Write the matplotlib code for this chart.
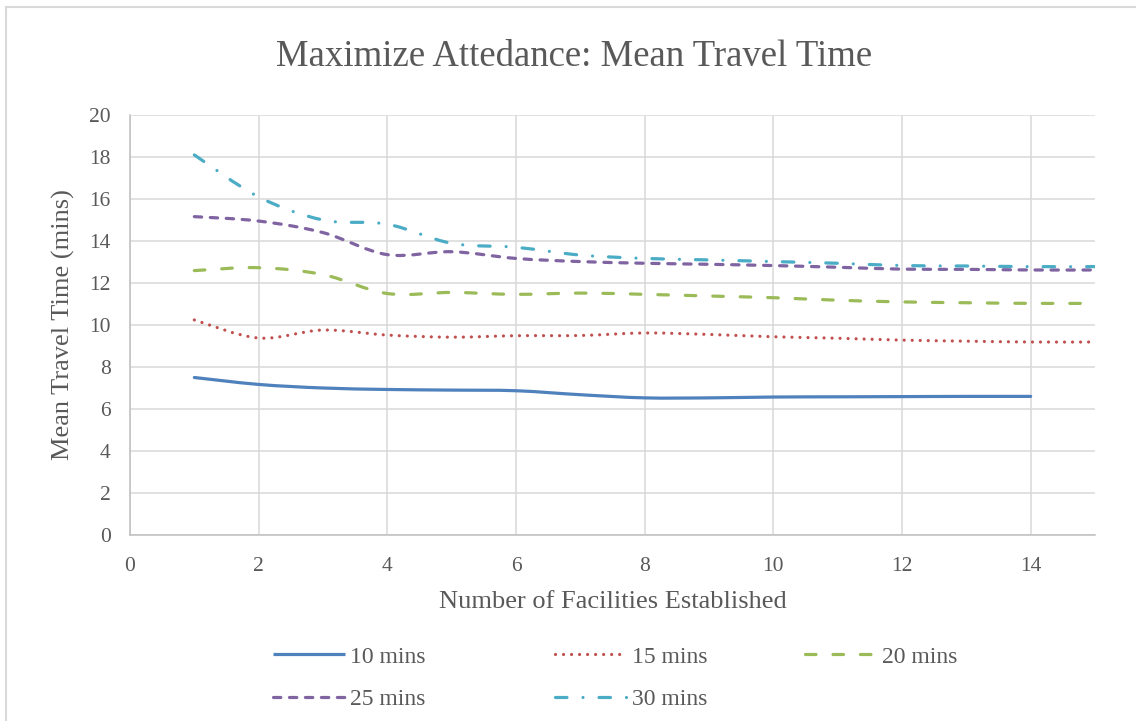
import numpy as np
import matplotlib.pyplot as plt
from matplotlib.path import Path
from matplotlib.patches import PathPatch
from matplotlib.lines import Line2D

plt.rcParams['font.family'] = ['Liberation Serif', 'DejaVu Serif']

# Datos
facilities = [1, 2, 3, 4, 5, 6, 7, 8, 9, 10, 11, 12, 13, 14, 15]
mins_10 = [7.50, 7.17, 7.00, 6.93, 6.90, 6.87, 6.68, 6.53, 6.53, 6.57, 6.58, 6.59, 6.60, 6.60]
mins_15 = [10.24, 9.38, 9.76, 9.52, 9.42, 9.49, 9.50, 9.62, 9.55, 9.44, 9.37, 9.28, 9.23, 9.19, 9.19]
mins_20 = [12.59, 12.73, 12.40, 11.50, 11.55, 11.46, 11.52, 11.46, 11.38, 11.30, 11.18, 11.10, 11.06, 11.03, 11.03]
mins_25 = [15.16, 14.95, 14.40, 13.35, 13.49, 13.17, 13.02, 12.94, 12.89, 12.83, 12.75, 12.66, 12.65, 12.62, 12.62]
mins_30 = [18.10, 16.10, 15.00, 14.80, 13.89, 13.70, 13.33, 13.17, 13.10, 13.02, 12.94, 12.83, 12.81, 12.78, 12.78]

names = ['10 mins', '15 mins', '20 mins', '25 mins', '30 mins']
series = [mins_10, mins_15, mins_20, mins_25, mins_30]
colors = ['#4F81BD', '#C0504D', '#9BBB59', '#8064A2', '#4BACC6']
styles = ['-', (0, (0.01, 2.5)), (0, (3.3, 5.3)), (0, (2.3, 2.7)), (0, (3.6, 5.0, 0.01, 5.0))]
text_color = '#595959'


def smooth_path(x, y):
    # Curva suave tipo Excel: Bezier cúbica con tangentes Catmull-Rom
    x = np.asarray(x, float)
    y = np.asarray(y, float)
    verts = [(x[0], y[0])]
    codes = [Path.MOVETO]
    n = len(x)
    for i in range(n - 1):
        p0 = (x[max(i - 1, 0)], y[max(i - 1, 0)])
        p1 = (x[i], y[i])
        p2 = (x[i + 1], y[i + 1])
        p3 = (x[min(i + 2, n - 1)], y[min(i + 2, n - 1)])
        c1 = (p1[0] + (p2[0] - p0[0]) / 6, p1[1] + (p2[1] - p0[1]) / 6)
        c2 = (p2[0] - (p3[0] - p1[0]) / 6, p2[1] - (p3[1] - p1[1]) / 6)
        verts += [c1, c2, p2]
        codes += [Path.CURVE4] * 3
    return Path(verts, codes)


fig = plt.figure(figsize=(11.36, 7.21), dpi=100)
ax = fig.add_axes([130 / 1136, 1 - 535 / 721, 965 / 1136, 420 / 721])

handles = []
for name, vals, col, ls in zip(names, series, colors, styles):
    xs = facilities[:len(vals)]
    patch = PathPatch(smooth_path(xs, vals), facecolor='none', edgecolor=col,
                      linewidth=2.3, linestyle=ls, capstyle='round', zorder=3)
    ax.add_patch(patch)
    handles.append(Line2D([], [], color=col, linewidth=2.3, linestyle=ls,
                          dash_capstyle='round', solid_capstyle='butt'))

ax.set_xlim(0, 15)
ax.set_ylim(0, 20)
ax.set_xticks(range(0, 15, 2))
ax.set_yticks(range(0, 21, 2))
ax.grid(True, color='#D9D9D9', linewidth=1.1)
ax.set_axisbelow(True)
for s in ['top', 'right']:
    ax.spines[s].set_visible(False)
for s in ['left', 'bottom']:
    ax.spines[s].set_color('#BFBFBF')
    ax.spines[s].set_linewidth(1.1)
ax.tick_params(axis='x', length=0, labelsize=15.5, labelcolor=text_color, pad=16)
ax.tick_params(axis='y', length=0, labelsize=15.5, labelcolor=text_color, pad=14)

ax.set_xlabel('Number of Facilities Established', fontsize=19, color=text_color, labelpad=11)
ax.set_ylabel('Mean Travel Time (mins)', fontsize=19, color=text_color, labelpad=10)
fig.text(574 / 1136, 1 - 57 / 721, 'Maximize Attedance: Mean Travel Time', fontsize=26.5,
         color=text_color, ha='center', va='center')

# Leyenda: una columna por grupo para respetar las posiciones de Excel
legend_cols = [([0, 3], 273), ([1, 4], 555), ([2], 805)]
for idx, xpix in legend_cols:
    fig.legend([handles[i] for i in idx], [names[i] for i in idx], loc='upper left',
               bbox_to_anchor=(xpix / 1136, 1 - 646 / 721), borderaxespad=0, borderpad=0,
               frameon=False, fontsize=17, handlelength=3.05, handletextpad=0.2,
               labelspacing=0.9, labelcolor=text_color)

# Borde del gráfico
fig.add_artist(Line2D([6 / 1136, 6 / 1136], [0, 1 - 7 / 721], color='#D9D9D9', linewidth=1.5))
fig.add_artist(Line2D([6 / 1136, 1], [1 - 7 / 721, 1 - 7 / 721], color='#D9D9D9', linewidth=1.5))

fig.savefig('out.png', dpi=100)
